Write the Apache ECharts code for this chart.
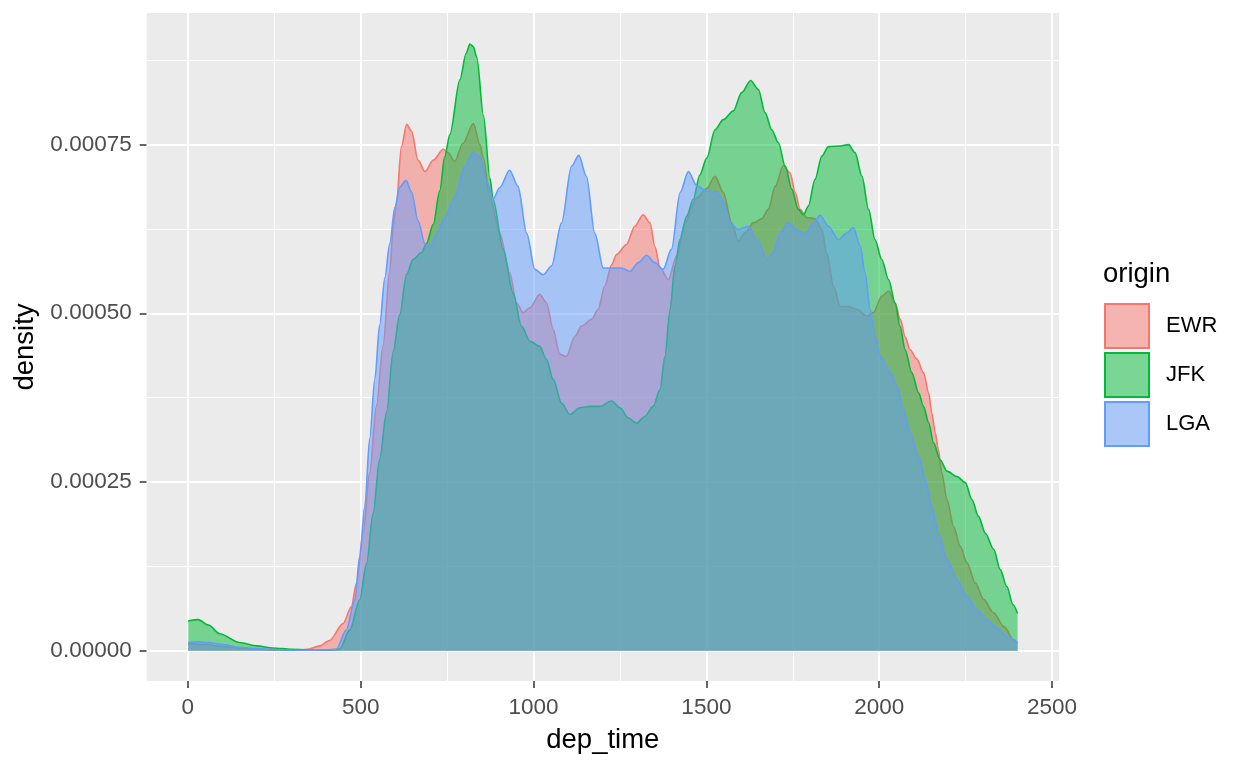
<!DOCTYPE html>
<html>
<head>
<meta charset="utf-8">
<script src="https://cdn.jsdelivr.net/npm/echarts@6/dist/echarts.min.js"></script>
<style>
html,body{margin:0;padding:0;background:#fff;}
#chart{width:1248px;height:768px;}
</style>
</head>
<body>
<div id="chart"></div>
<script>
// Density values are in units of 1e-5
const seriesNames = ['EWR', 'JFK', 'LGA'];

const ewrX = [1,50,100,150,200,250,300,347,382,410,449,473,488,507,526,546,565,584,595,603,618,633,647,666,686,710,739,753,772,796,826,845,855,873,902,931,951,970,989,1018,1037,1057,1076,1095,1120,1139,1168,1187,1206,1226,1240,1269,1293,1317,1337,1351,1366,1390,1414,1438,1472,1501,1525,1549,1573,1592,1612,1636,1660,1679,1699,1723,1742,1757,1771,1790,1814,1834,1848,1868,1887,1911,1935,1964,1983,2007,2027,2046,2061,2075,2089,2109,2128,2143,2152,2162,2171,2181,2196,2215,2234,2254,2278,2302,2331,2360,2389,2400];
const ewrY = [1.0,0.9,0.6,0.4,0.2,0.1,0.05,0.2,0.7,1.5,4.0,6.5,10,17.4,26.4,36.4,45.3,56.3,63.2,66.2,74.7,78.0,77.0,72.7,71.0,72.7,74.3,73.8,72.5,75.2,78.1,75.0,73.0,67.4,61.9,56.0,51.5,50.1,50.8,52.8,51.6,47.6,43.9,43.6,46.6,48.1,49.1,50.6,54.0,57.2,58.7,60.2,62.9,64.6,63.4,59.9,56.7,55.0,58.5,63.4,67.1,68.5,70.3,67.9,63.4,60.7,61.9,63.4,64.0,65.4,68.8,71.9,70.8,67.9,65.4,64.2,64.0,62.4,58.9,54.0,51.0,51.0,50.6,49.6,50.1,52.5,53.3,51.5,49.1,46.5,44.6,43.2,41.2,38.2,35.2,32.3,29.8,26.3,22.4,18.4,15.5,13.0,10.0,7.6,5.6,3.6,1.6,1.1];

const jfkX = [1,30,60,92,150,200,246,300,343,400,439,468,497,517,536,555,575,594,613,633,652,676,690,710,729,743,758,787,805,816,826,836,855,874,883,912,941,965,989,1018,1037,1057,1081,1105,1134,1163,1192,1226,1250,1274,1298,1322,1346,1366,1380,1395,1409,1424,1443,1462,1481,1501,1525,1549,1578,1602,1628,1650,1670,1689,1708,1728,1747,1766,1781,1795,1814,1834,1853,1887,1911,1930,1950,1969,1988,2007,2027,2046,2060,2075,2094,2114,2128,2143,2157,2176,2196,2225,2249,2268,2287,2307,2331,2350,2369,2387,2400];
const jfkY = [4.4,4.6,3.8,2.5,1.2,0.7,0.4,0.2,0.1,0.05,0.2,3.0,7.5,12.9,20.4,28.4,35.4,44.3,49.8,55.8,58.0,59.0,60.3,63.2,68.2,73.2,76.5,84.6,88.5,89.9,89.5,87.9,79.3,70.0,66.9,59.5,53.0,48.1,45.9,45.1,43.2,40.2,36.7,35.0,36.0,36.2,36.2,37.0,36.0,34.5,33.7,34.7,36.2,38.7,43.6,50.6,57.0,61.0,64.4,66.9,70.5,73.0,77.2,78.7,80.0,82.7,84.5,83.2,79.7,77.2,75.3,71.8,68.4,65.4,64.6,65.9,69.8,73.3,74.7,74.8,75.0,73.8,70.3,65.4,60.9,58.0,55.0,51.5,48.1,44.6,41.2,38.2,36.2,33.8,30.8,28.3,26.6,25.8,24.9,22.4,19.9,17.4,15.0,12.0,9.5,6.8,5.5];

const lgaX = [1,30,60,100,150,200,250,300,350,400,429,458,483,497,512,526,541,555,570,584,599,613,631,647,666,686,700,719,743,772,801,825,844,864,883,902,931,955,980,1004,1028,1052,1081,1110,1131,1153,1177,1202,1231,1255,1279,1303,1327,1351,1375,1399,1424,1448,1472,1501,1530,1550,1568,1592,1621,1646,1675,1694,1713,1737,1761,1786,1810,1829,1853,1882,1906,1925,1945,1959,1974,1988,2003,2032,2051,2070,2089,2114,2133,2152,2171,2196,2225,2253,2282,2311,2340,2369,2400];
const lgaY = [1.2,1.3,1.2,0.9,0.5,0.3,0.15,0.05,0.05,0.1,0.2,3.0,7.5,13.9,21.4,31.4,40.3,48.3,55.3,60.3,65.7,68.7,69.7,68.0,63.7,60.3,59.8,61.8,64.2,67.2,71.7,73.8,73.2,69.7,66.9,68.6,71.2,68.8,61.9,56.5,55.7,57.0,63.4,71.8,73.4,70.3,61.9,56.7,56.7,56.7,56.2,57.5,58.6,57.5,56.5,59.5,67.9,71.0,68.9,68.1,68.0,66.5,63.4,62.4,62.9,60.9,58.0,59.0,61.9,63.4,62.4,61.7,63.4,64.5,62.9,60.9,61.9,62.7,60.0,56.0,50.6,46.6,43.6,41.2,39.2,35.7,32.3,28.8,25.3,21.4,17.4,13.5,10.5,8.1,6.1,4.6,3.4,2.1,1.1];

const xTickValues = [0, 500, 1000, 1500, 2000, 2500];
const xTickLabels = ['0', '500', '1000', '1500', '2000', '2500'];
const xMinorGrid = [250, 750, 1250, 1750, 2250];
const yTickValues = [0, 25, 50, 75];
const yTickLabels = ['0.00000', '0.00025', '0.00050', '0.00075'];
const yMinorGrid = [12.5, 37.5, 62.5, 87.5];

const lineColors = ['#F8766D', '#00BA38', '#619CFF'];
const keyFills = ['#F5B4AF', '#79D695', '#AAC7F8'];
const FONT = '"Liberation Sans", Arial, sans-serif';

const chart = echarts.init(document.getElementById('chart'));

function pairs(xs, ys) { return xs.map((x, i) => [x, ys[i]]); }
const seriesData = [pairs(ewrX, ewrY), pairs(jfkX, jfkY), pairs(lgaX, lgaY)];

const gridLines = [];
xTickValues.forEach(v => gridLines.push({ xAxis: v, lineStyle: { width: 2 } }));
xMinorGrid.forEach(v => gridLines.push({ xAxis: v, lineStyle: { width: 1 } }));
yTickValues.forEach(v => gridLines.push({ yAxis: v, lineStyle: { width: 2 } }));
yMinorGrid.forEach(v => gridLines.push({ yAxis: v, lineStyle: { width: 1 } }));

const series = [{
  name: '_grid',
  type: 'line',
  data: [],
  z: 1,
  silent: true,
  markLine: {
    z: 1,
    silent: true,
    symbol: ['none', 'none'],
    label: { show: false },
    animation: false,
    lineStyle: { color: '#FFFFFF', type: 'solid' },
    emphasis: { disabled: true },
    data: gridLines
  }
}];
seriesNames.forEach((name, i) => {
  series.push({
    name: name,
    type: 'line',
    data: seriesData[i],
    z: 2 + i,
    smooth: 0.3,
    smoothMonotone: 'x',
    symbol: 'none',
    showSymbol: false,
    lineStyle: { color: lineColors[i], width: 1.6 },
    itemStyle: { color: keyFills[i], borderColor: lineColors[i], borderWidth: 2 },
    areaStyle: { color: lineColors[i], opacity: 0.5, origin: 'auto' },
    emphasis: { disabled: true },
    animation: false
  });
});

chart.setOption({
  animation: false,
  title: {
    text: 'origin',
    left: 1103,
    top: 260,
    padding: 0,
    textStyle: { fontFamily: FONT, fontSize: 27.5, fontWeight: 'normal', color: '#000000' }
  },
  legend: {
    data: seriesNames,
    orient: 'vertical',
    left: 1104,
    top: 303,
    padding: 0,
    itemGap: 3,
    itemWidth: 44,
    itemHeight: 44,
    icon: 'rect',
    selectedMode: false,
    textStyle: { fontFamily: FONT, fontSize: 22, color: '#000000', padding: [0, 0, 0, 12] }
  },
  grid: {
    left: 146.7,
    right: 189,
    top: 13,
    bottom: 87,
    show: true,
    backgroundColor: '#EBEBEB',
    borderWidth: 0
  },
  xAxis: {
    type: 'value',
    min: -118.95,
    max: 2519.95,
    name: 'dep_time',
    nameLocation: 'middle',
    nameGap: 45,
    nameTextStyle: { fontFamily: FONT, fontSize: 27.5, color: '#000000' },
    axisLine: { show: false, onZero: false },
    axisTick: { show: true, length: 7, lineStyle: { color: '#333333', width: 1.5 }, customValues: xTickValues },
    axisLabel: {
      show: true,
      margin: 15,
      customValues: xTickValues,
      fontFamily: FONT,
      fontSize: 22.5,
      color: '#4D4D4D',
      formatter: v => xTickLabels[xTickValues.indexOf(v)]
    },
    splitLine: { show: false },
    minorSplitLine: { show: false }
  },
  yAxis: {
    type: 'value',
    min: -4.5,
    max: 94.5,
    name: 'density',
    nameLocation: 'middle',
    nameGap: 104,
    nameTextStyle: { fontFamily: FONT, fontSize: 27.5, color: '#000000' },
    axisLine: { show: false, onZero: false },
    axisTick: { show: true, length: 7, lineStyle: { color: '#333333', width: 1.5 }, customValues: yTickValues },
    axisLabel: {
      show: true,
      margin: 15,
      customValues: yTickValues,
      fontFamily: FONT,
      fontSize: 22.5,
      color: '#4D4D4D',
      formatter: v => yTickLabels[yTickValues.indexOf(v)]
    },
    splitLine: { show: false },
    minorSplitLine: { show: false }
  },
  series: series
});
</script>
</body>
</html>
